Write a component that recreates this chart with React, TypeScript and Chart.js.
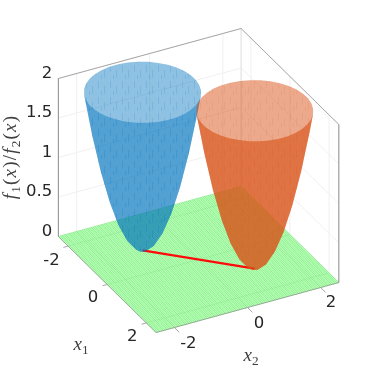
import React, { useEffect, useRef } from "react";
import { Chart, registerables } from "chart.js";

Chart.register(...registerables);

// ---- data ----
const axisLimits = [-2.5, 2.5];
const zLimits = [0, 2];
const x1Ticks = [-2, 0, 2];
const x2Ticks = [-2, 0, 2];
const zTicks = [0, 0.5, 1, 1.5, 2];
const x1TickLabels = ["-2", "0", "2"];
const x2TickLabels = ["-2", "0", "2"];
const zTickLabels = ["0", "0.5", "1", "1.5", "2"];

const bowlBlueCentre = [-1, -1];
const bowlOrangeCentre = [1, 1];
const rimRadius = 1.414;
const rimHeight = 2;

// bowl outline (as seen from this viewpoint), relative to the bowl's centre
const outlineX1 = [-0.539, -0.45, -0.35, -0.25, -0.15, -0.05, 0.05, 0.1, 0.157, 0.25, 0.35, 0.45, 0.55, 0.65, 0.75, 0.784];
const outlineX2 = [-1.307, -1.14, -0.952, -0.764, -0.577, -0.389, -0.201, -0.107, 0, 0.174, 0.362, 0.55, 0.737, 0.925, 1.113, 1.177];
const outlineZ = [2, 1.502, 1.029, 0.646, 0.355, 0.154, 0.043, 0.021, 0.025, 0.093, 0.254, 0.505, 0.846, 1.278, 1.801, 2];

// far half of the rim, as unit directions
const rimCos = [0.5547, 0.4017, 0.2366, 0.0644, -0.1099, -0.2808, -0.4432, -0.5922, -0.7232, -0.8321, -0.9158, -0.9716, -0.9979, -0.9939, -0.9598, -0.8964, -0.8058, -0.6907, -0.5547];
const rimSin = [0.8321, 0.9158, 0.9716, 0.9979, 0.9939, 0.9598, 0.8964, 0.8058, 0.6907, 0.5547, 0.4017, 0.2366, 0.0644, -0.1099, -0.2808, -0.4432, -0.5922, -0.7232, -0.8321];

const redLineX1 = [-1, 1];
const redLineX2 = [-1, 1];

const floorMesh = [
  -2.5, -2.45, -2.4, -2.35, -2.3, -2.25, -2.2, -2.15, -2.1, -2.05, -2, -1.95, -1.9, -1.85, -1.8, -1.75, -1.7,
  -1.65, -1.6, -1.55, -1.5, -1.45, -1.4, -1.35, -1.3, -1.25, -1.2, -1.15, -1.1, -1.05, -1, -0.95, -0.9, -0.85,
  -0.8, -0.75, -0.7, -0.65, -0.6, -0.55, -0.5, -0.45, -0.4, -0.35, -0.3, -0.25, -0.2, -0.15, -0.1, -0.05, 0,
  0.05, 0.1, 0.15, 0.2, 0.25, 0.3, 0.35, 0.4, 0.45, 0.5, 0.55, 0.6, 0.65, 0.7, 0.75, 0.8, 0.85, 0.9, 0.95, 1,
  1.05, 1.1, 1.15, 1.2, 1.25, 1.3, 1.35, 1.4, 1.45, 1.5, 1.55, 1.6, 1.65, 1.7, 1.75, 1.8, 1.85, 1.9, 1.95, 2,
  2.05, 2.1, 2.15, 2.2, 2.25, 2.3, 2.35, 2.4, 2.45, 2.5,
];

// ---- viewpoint ----
const VIEW = { cx: 198.6, cy: 259.5, x1: [19.55, 19.2], x2: [36.55, -10], z: 79 };
const project = (a: number, b: number, c: number) => ({
  x: VIEW.cx + a * VIEW.x1[0] + b * VIEW.x2[0],
  y: VIEW.cy + a * VIEW.x1[1] + b * VIEW.x2[1] - c * VIEW.z,
});

const BLUE = "0,114,189";
const ORANGE = "217,83,25";

function tile(rgb: string, base: number, dash: number) {
  const c = document.createElement("canvas");
  c.width = 12;
  c.height = 16;
  const g = c.getContext("2d")!;
  g.fillStyle = `rgba(${rgb},${base})`;
  g.fillRect(0, 0, 12, 16);
  g.clearRect(2, 1, 1, 7);
  g.clearRect(8, 6, 1, 8);
  g.clearRect(5, 11, 1, 4);
  g.fillStyle = `rgba(${rgb},${dash})`;
  g.fillRect(2, 1, 1, 7);
  g.fillRect(8, 6, 1, 8);
  g.fillRect(5, 11, 1, 4);
  return g.createPattern(c, "repeat")!;
}

function bowlDatasets(centre: number[], rgb: string, backAlpha: number, frontAlpha: number, dash: number, dashFront: number) {
  const outline = outlineX1.map((u, i) => project(centre[0] + u, centre[1] + outlineX2[i], outlineZ[i]));
  const farRim = rimCos.map((c, i) =>
    project(centre[0] + rimRadius * c, centre[1] + rimRadius * rimSin[i], rimHeight)
  );
  const nearRim = rimCos
    .map((c, i) => project(centre[0] - rimRadius * c, centre[1] - rimRadius * rimSin[i], rimHeight))
    .reverse();
  const poly = (data: { x: number; y: number }[], bg: any) => ({
    data,
    showLine: true,
    fill: "shape",
    backgroundColor: bg,
    borderWidth: 0,
    borderColor: "rgba(0,0,0,0)",
    pointRadius: 0,
  });
  return [
    poly([...outline, ...farRim], tile(rgb, backAlpha, dash)),
    poly([...outline, ...nearRim], tile(rgb, frontAlpha, dashFront)),
  ];
}

const seg = (pts: { x: number; y: number }[], color: string, width: number) => ({
  data: pts,
  showLine: true,
  fill: false,
  borderColor: color,
  borderWidth: width,
  pointRadius: 0,
});

function buildDatasets() {
  const [lo, hi] = axisLimits;
  const [z0, z1] = zLimits;
  const GRID = "#f0f0f0";
  const BOX = "#a6a6a6";
  const AX = "#8a8a8a";
  const layers: any[] = [];
  // wall and floor grid
  zTicks.forEach((z) => {
    layers.push(seg([project(lo, lo, z), project(lo, hi, z), project(hi, hi, z)], GRID, 1));
  });
  x2Ticks.forEach((t) => {
    layers.push(seg([project(hi, t, z0), project(lo, t, z0), project(lo, t, z1)], GRID, 1));
  });
  x1Ticks.forEach((t) => {
    layers.push(seg([project(t, lo, z0), project(t, hi, z0), project(t, hi, z1)], GRID, 1));
  });
  // back vertical edge
  layers.push(seg([project(lo, hi, z0), project(lo, hi, z1)], "#dcdcdc", 1));
  // green floor mesh
  floorMesh.forEach((t) => {
    layers.push(seg([project(t, lo, 0), project(t, hi, 0)], "rgba(0,235,0,0.62)", 0.5));
    layers.push(seg([project(lo, t, 0), project(hi, t, 0)], "rgba(0,235,0,0.62)", 0.5));
  });
  // box
  layers.push(seg([project(lo, lo, z1), project(lo, hi, z1), project(hi, hi, z1)], BOX, 1));
  layers.push(seg([project(lo, lo, z0), project(lo, lo, z1)], AX, 1));
  layers.push(seg([project(hi, hi, z0), project(hi, hi, z1)], AX, 1));
  layers.push(seg([project(lo, lo, z0), project(hi, lo, z0), project(hi, hi, z0)], AX, 0.7));
  // ticks
  x1Ticks.forEach((t) => layers.push(seg([project(t, lo, 0), project(t, lo - 0.13, 0)], BOX, 1)));
  x2Ticks.forEach((t) => layers.push(seg([project(hi, t, 0), project(hi + 0.25, t, 0)], BOX, 1)));
  // red segment
  layers.push(
    seg(
      redLineX1.map((a, i) => project(a, redLineX2[i], 0)),
      "#ff0a0a",
      2.2
    )
  );
  layers.push(...bowlDatasets(bowlBlueCentre, BLUE, 0.44, 0.42, 0.52, 0.47));
  layers.push(...bowlDatasets(bowlOrangeCentre, ORANGE, 0.5, 0.62, 0.56, 0.66));
  // Chart.js paints dataset 0 last
  return layers.reverse();
}

const TICK_FONT = "16.5px 'DejaVu Sans'";
const TICK_COLOR = "#262626";
const MATH = "'Liberation Serif'";
const x1LabelOffsetX = [-16.6, -14.2, -14];
const x1LabelOffsetY = [14.4, 13.6, 13.6];
const x2LabelOffsetX = [14, 11.5, 10.4];
const x2LabelOffsetY = [16, 16, 15.5];

function drawRuns(ctx: CanvasRenderingContext2D, runs: [string, "i" | "r" | "s"][], size: number, gap = 0) {
  const font = (k: string) =>
    k === "i" ? `italic ${size}px ${MATH}` : k === "s" ? `${size * 0.7}px ${MATH}` : `${size}px ${MATH}`;
  let total = 0;
  runs.forEach(([t, k]) => {
    ctx.font = font(k);
    total += ctx.measureText(t).width + gap;
  });
  let x = -total / 2;
  ctx.textAlign = "left";
  ctx.textBaseline = "alphabetic";
  runs.forEach(([t, k]) => {
    ctx.font = font(k);
    ctx.fillText(t, x, k === "s" ? size * 0.22 : 0);
    x += ctx.measureText(t).width + gap;
  });
}

const textPlugin = {
  id: "axisText",
  afterDraw(chart: any) {
    const { ctx, scales } = chart;
    const px = (p: { x: number; y: number }) => ({
      x: scales.x.getPixelForValue(p.x),
      y: scales.y.getPixelForValue(p.y),
    });
    const [lo, hi] = axisLimits;
    ctx.save();
    ctx.fillStyle = TICK_COLOR;
    ctx.font = TICK_FONT;
    ctx.textBaseline = "middle";
    ctx.textAlign = "right";
    zTicks.forEach((z, i) => {
      const p = px(project(lo, lo, z));
      ctx.fillText(zTickLabels[i], p.x - 6, p.y - 5);
    });
    ctx.textAlign = "center";
    x1Ticks.forEach((t, i) => {
      const p = px(project(t, lo, 0));
      ctx.fillText(x1TickLabels[i], p.x + x1LabelOffsetX[i], p.y + x1LabelOffsetY[i]);
    });
    x2Ticks.forEach((t, i) => {
      const p = px(project(hi, t, 0));
      ctx.fillText(x2TickLabels[i], p.x + x2LabelOffsetX[i], p.y + x2LabelOffsetY[i]);
    });
    ctx.fillStyle = "#404040";
    ctx.save();
    ctx.translate(81, 350);
    drawRuns(ctx, [["x", "i"], ["1", "s"]], 19);
    ctx.restore();
    ctx.save();
    ctx.translate(251, 361);
    drawRuns(ctx, [["x", "i"], ["2", "s"]], 19);
    ctx.restore();
    ctx.save();
    ctx.translate(16, 157);
    ctx.rotate(-Math.PI / 2);
    drawRuns(
      ctx,
      [["f", "i"], ["1", "s"], ["(", "r"], ["x", "i"], [")", "r"], ["/", "r"], ["f", "i"], ["2", "s"], ["(", "r"], ["x", "i"], [")", "r"]],
      19,
      1.2
    );
    ctx.restore();
    ctx.restore();
  },
};

export default function App() {
  const ref = useRef<HTMLCanvasElement>(null);
  useEffect(() => {
    const chart = new Chart(ref.current!, {
      type: "scatter",
      data: { datasets: buildDatasets() },
      options: {
        animation: false,
        responsive: false,
        events: [],
        layout: { padding: 0 },
        plugins: { legend: { display: false }, tooltip: { enabled: false }, title: { display: false } },
        scales: {
          x: { type: "linear", min: 0, max: 374, display: false },
          y: { type: "linear", min: 0, max: 374, reverse: true, display: false },
        },
      },
      plugins: [textPlugin],
    } as any);
    return () => chart.destroy();
  }, []);
  return (
    <div style={{ position: "absolute", left: 0, top: 0, width: 374, height: 374 }}>
      <canvas ref={ref} width={374} height={374} style={{ display: "block" }} />
    </div>
  );
}
